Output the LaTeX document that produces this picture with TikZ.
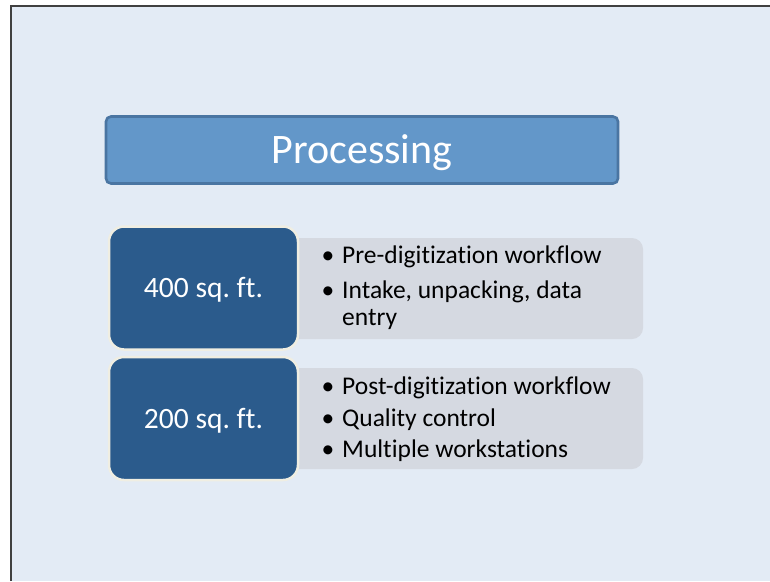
\documentclass[tikz,border=0pt]{standalone}
\usepackage{fontspec}
\setmainfont[Ligatures=NoCommon]{Carlito}
\definecolor{slidebg}{HTML}{E3EBF5}
\definecolor{slideedge}{HTML}{404040}
\definecolor{titlefill}{HTML}{6397C9}
\definecolor{titleedge}{HTML}{4A75A2}
\definecolor{areafill}{HTML}{2B5B8C}
\definecolor{areaedge}{HTML}{F0EEE2}
\definecolor{notefill}{HTML}{D5D9E1}
\begin{document}
\begin{tikzpicture}[x=1pt,y=-1pt,
  titlebox/.style={draw=titleedge, line width=2.6pt, fill=titlefill, rounded corners=5pt,
    minimum width=512pt, minimum height=67pt, inner sep=0pt,
    text=white, font=\fontsize{42}{50}\selectfont, text height=26.5pt, text depth=0pt},
  areabox/.style={draw=areaedge, line width=2.5pt, fill=areafill, rounded corners=15pt,
    minimum width=189pt, minimum height=123pt, inner sep=0pt,
    text=white, font=\fontsize{29.5}{35}\selectfont, text height=19pt, text depth=0pt},
  notebox/.style={fill=notefill, rounded corners=11pt, minimum width=358pt,
    minimum height=101pt, inner sep=0pt},
  bul/.style={anchor=base, inner sep=0pt, font=\fontsize{25.5}{30}\selectfont},
  itemtext/.style={anchor=base west, inner sep=0pt, font=\fontsize{25.5}{30}\selectfont}
]
\useasboundingbox (0,0) rectangle (770,581);
% slide background and its top/left edge
\fill[white] (0,0) rectangle (770,581);
\fill[slidebg] (11,6) rectangle (770,581);
\draw[slideedge, line width=1.4pt] (11,581) -- (11,6) -- (770,6);

% heading
\node[titlebox] (title) at (362,150) {Processing};

% detail panels, drawn first so the area boxes overlap them
\node[notebox] (note1) at (464,288.5) {};
\node[notebox] (note2) at (464,418.5) {};

% area boxes
\node[areabox] (area1) at (203.5,288) {400 sq.\ ft.};
\node[areabox] (area2) at (203.5,418.5) {200 sq.\ ft.};

% first list
\node[bul] (b11) at (328,263) {•};
\node[itemtext] (t11) at (342,263) {Pre-digitization workflow};
\node[bul] (b12) at (328,298) {•};
\node[itemtext] (t12) at (342,298) {Intake, unpacking, data};
\node[itemtext] (t13) at (342,325) {entry};

% second list
\node[bul] (b21) at (328,394) {•};
\node[itemtext] (t21) at (342,394) {Post-digitization workflow};
\node[bul] (b22) at (328,426) {•};
\node[itemtext] (t22) at (342,426) {Quality control};
\node[bul] (b23) at (328,457) {•};
\node[itemtext] (t23) at (342,457) {Multiple workstations};
\end{tikzpicture}
\end{document}
